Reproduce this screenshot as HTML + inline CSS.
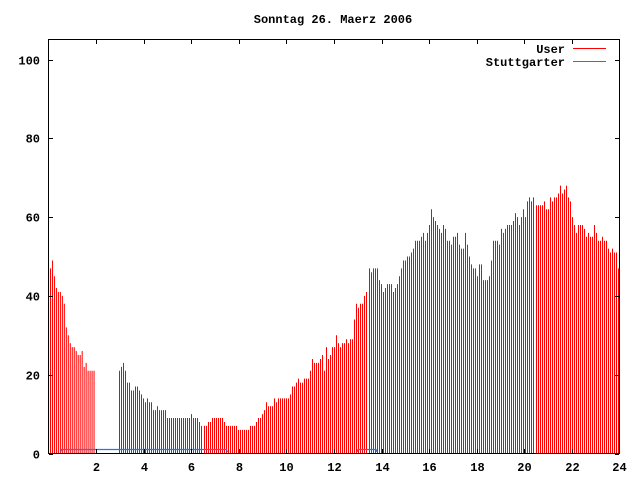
<!DOCTYPE html>
<html><head><meta charset="utf-8">
<style>
html,body{margin:0;padding:0;background:#fff;}
svg{display:block;}
text{font-family:"Liberation Mono",monospace;font-weight:bold;font-size:12px;fill:#000;}
</style></head>
<body>
<svg id="s" width="640" height="480" xmlns="http://www.w3.org/2000/svg">
<rect x="0" y="0" width="640" height="480" fill="#fff"/>
<g id="bars" stroke="#ff0000" stroke-width="1"></g>
<g stroke="#1e78f0" stroke-width="1.2" fill="none">
<polyline points="60.5,452 61.5,449.5 226.5,449.5 227.5,452"/>
<polyline points="357,452 358,449.5 376,449.5 377,452"/>
</g>
<rect x="48.5" y="39.5" width="571" height="414" fill="none" stroke="#000" stroke-width="1"/>
<g id="ticks" stroke="#000" stroke-width="1"></g>
<g id="labels"></g>
<text x="333" y="23" text-anchor="middle">Sonntag 26. Maerz 2006</text>
<text x="565" y="53" text-anchor="end">User</text>
<line x1="573" y1="48.5" x2="606" y2="48.5" stroke="#ff0000"/>
<text x="565" y="66" text-anchor="end">Stuttgarter</text>
<line x1="573" y1="61.5" x2="606" y2="61.5" stroke="#1e78f0"/>
</svg>
<script>
var NS="http://www.w3.org/2000/svg";
function ln(g,x1,y1,x2,y2){var l=document.createElementNS(NS,"line");l.setAttribute("x1",x1);l.setAttribute("y1",y1);l.setAttribute("x2",x2);l.setAttribute("y2",y2);g.appendChild(l);}
function tx(g,x,y,s,a){var t=document.createElementNS(NS,"text");t.setAttribute("x",x);t.setAttribute("y",y);t.setAttribute("text-anchor",a);t.textContent=s;g.appendChild(t);}
var Y0=453.5,SC=3.94;
var seg1=[47,49,45,42,41,41,40,38,32,30,28,27,27,26,25,25,26,22,23,21,21,21,21];
var seg2=[21,22,23,21,18,18,16,16,17,17,16,15,14,13,14,13,13,11,11,12,11,11,11,11,
9,9,9,9,9,9,9,9,9,9,9,9,10,9,9,9,8,7,7,7,8,8,9,9,9,9,9,9,8,7,7,7,7,7,7,6,6,6,6,6,6,7,7,7,8,9,9,10,11,13,12,12,12,14,13,14,14,14,14,14,14,15,17,17,18,19,18,18,19,19,19,21,24,23,23,23,24,25,21,27,24,25,27,27,30,28,27,28,28,29,28,29,29,34,38,37,38,38,40,41,47,46,47,47,47,44,43,41,42,43,43,43,41,42,43,45,47,49,49,50,50,51,52,54,54,54,55,56,54,56,58,62,60,59,58,57,56,58,57,54,54,53,55,55,56,53,52,52,56,53,50,48,47,47,45,48,48,44,44,44,45,49,54,54,54,53,57,56,57,58,58,58,59,61,60,58,60,62,60,64,65,64,65,63,63,63,63,64,62,62,65,64,65,65,66,68,66,67,68,65,64,60,58,56,58,58,58,57,55,56,55,55,58,56,54,54,55,54,54,52,51,52,51,51,47];
var b=document.getElementById("bars");
seg1.forEach(function(v,i){var x=50.5+i*1.98;ln(b,x,Y0,x,Y0-v*SC);});
var n=seg2.length;
seg2.forEach(function(v,i){var x=Math.round(119+i*(618-119)/(n-1))+0.5;ln(b,x,Y0,x,Y0-v*SC);});
var tk=document.getElementById("ticks"),lb=document.getElementById("labels");
for(var h=2;h<=24;h+=2){var x=Math.round(48.5+h*23.79)+0.5;ln(tk,x,453,x,449);ln(tk,x,40,x,44);tx(lb,x,471,String(h),"middle");}
for(var v=0;v<=100;v+=20){var y=Math.round(453.5-v*3.94)+0.5;ln(tk,49,y,53,y);ln(tk,619,y,615,y);tx(lb,40,y+4,String(v),"end");}
</script>
</body></html>
